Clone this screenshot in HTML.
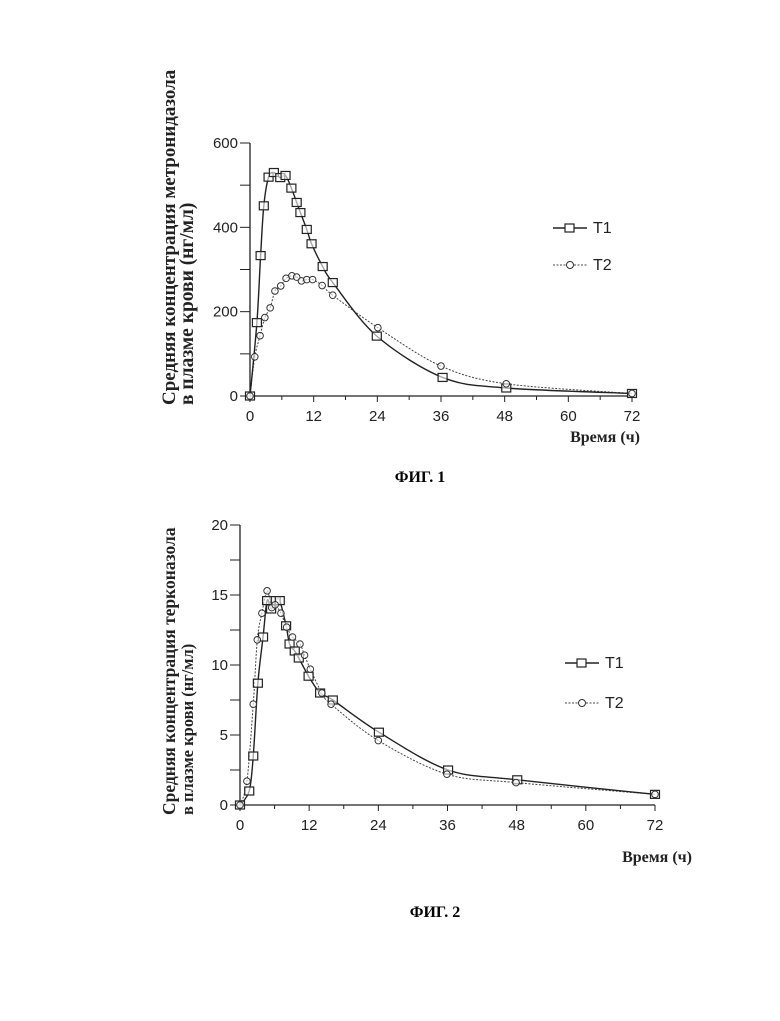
<!DOCTYPE html>
<html><head><meta charset="utf-8"><style>
html,body{margin:0;padding:0;background:#fff;overflow:hidden;}
svg{display:block;}
text{font-family:"Liberation Sans",sans-serif;}
.serif{font-family:"Liberation Serif",serif;font-weight:bold;}
</style></head><body>
<svg id="root" width="780" height="1021" viewBox="0 0 780 1021">
<g id="c1"></g>
<g id="c2"></g>
<text class="serif" x="420" y="482" font-size="16" text-anchor="middle">ФИГ. 1</text>
<text class="serif" x="435" y="917" font-size="16" text-anchor="middle">ФИГ. 2</text>
</svg>
<script>
// Fig 1 data
const f1T1x=[0,1.3,2,2.6,3.5,4.5,5.7,6.7,7.8,8.8,9.5,10.7,11.6,13.7,15.6,23.9,36.3,48.3,72];
const f1T1y=[0,174,333,451,519,530,518,523,493,459,435,395,361,307,269,142,44,19,6];
const f1T2x=[0,0.9,1.9,2.8,3.8,4.7,5.8,6.8,7.9,8.8,9.7,10.7,11.8,13.6,15.6,24.1,36,48.3,72];
const f1T2y=[0,93,143,186,209,249,261,279,285,282,273,276,276,262,239,162,71,29,6];
const f1YTicks=[0,200,400,600];
const f1XTicks=[0,12,24,36,48,60,72];
// Fig 2 data
const f2T1x=[0,1.6,2.3,3.1,4.0,4.7,5.4,6.2,6.9,8.0,8.6,9.5,10.2,11.9,13.9,16.1,24.1,36.1,48.1,72];
const f2T1y=[0,1.0,3.5,8.7,12.0,14.6,14.0,14.6,14.6,12.8,11.5,11.0,10.5,9.2,8.0,7.5,5.2,2.5,1.8,0.76];
const f2T2x=[0,1.2,2.3,3.0,3.8,4.7,5.5,6.1,7.1,8.1,9.1,10.4,11.2,12.2,14.2,15.8,24.0,35.9,47.9,72];
const f2T2y=[0,1.7,7.2,11.8,13.7,15.3,14.1,14.3,13.7,12.7,12.0,11.5,10.7,9.7,8.0,7.2,4.6,2.2,1.6,0.76];
const f2YTicks=[0,5,10,15,20];
const f2XTicks=[0,12,24,36,48,60,72];

const NS="http://www.w3.org/2000/svg";
function mk(p,tag,attrs){const e=document.createElementNS(NS,tag);for(const k in attrs)e.setAttribute(k,attrs[k]);p.appendChild(e);return e;}
function smooth(pts){let d=`M${pts[0][0]},${pts[0][1]}`;for(let i=0;i<pts.length-1;i++){const p0=pts[Math.max(0,i-1)],p1=pts[i],p2=pts[i+1],p3=pts[Math.min(pts.length-1,i+2)];const t=0.16;d+=` C${p1[0]+(p2[0]-p0[0])*t},${p1[1]+(p2[1]-p0[1])*t} ${p2[0]-(p3[0]-p1[0])*t},${p2[1]-(p3[1]-p1[1])*t} ${p2[0]},${p2[1]}`;}return d;}

function chart(g,o){
  const sx=v=>o.x0+(v/72)*(o.x1-o.x0);
  const sy=v=>o.y0-(v/o.ymax)*(o.y0-o.y1);
  let e;
  e=mk(g,'line',{x1:o.x0,y1:o.y0,x2:o.x1,y2:o.y0,stroke:'#222','stroke-width':1.3});
  
  
  e=mk(g,'line',{x1:o.x0,y1:o.y0,x2:o.x0,y2:o.y1,stroke:'#222','stroke-width':1.3});
  
  
  for(let h=0;h<=72;h+=6){e=mk(g,'line',{x1:sx(h),y1:o.y0,x2:sx(h),y2:o.y0+(h%12==0?6:4),stroke:'#222','stroke-width':1});
    
    }
  o.xt.forEach(v=>{e=mk(g,'text',{x:sx(v),y:o.y0+25,'font-size':15,'text-anchor':'middle',fill:'#222'});e.textContent=v;
    
    });
  const step=o.ymin;
  for(let v=0;v<=o.ymax+1e-9;v+=step){e=mk(g,'line',{x1:o.x0-10,y1:sy(v),x2:o.x0,y2:sy(v),stroke:'#222','stroke-width':1});
    
    }
  o.yt.forEach(v=>{e=mk(g,'text',{x:o.x0-12,y:sy(v)+5,'font-size':15,'text-anchor':'end',fill:'#222'});e.textContent=v;
    
    });
  const p1=o.t1x.map((x,i)=>[sx(x),sy(o.t1y[i])]);
  const p2=o.t2x.map((x,i)=>[sx(x),sy(o.t2y[i])]);
  e=mk(g,'path',{d:smooth(p2),fill:'none',stroke:'#444','stroke-width':1,'stroke-dasharray':'2,1.5'});
  
  
  e=mk(g,'path',{d:smooth(p1),fill:'none',stroke:'#222','stroke-width':1.4});
  
  
  p1.forEach(p=>{e=mk(g,'rect',{x:p[0]-4.5,y:p[1]-4,width:9,height:8,fill:'#fff','fill-opacity':0.6,stroke:'#222','stroke-width':1.2});
    
    });
  p2.forEach(p=>{e=mk(g,'circle',{cx:p[0],cy:p[1],r:3.3,fill:'#fff','fill-opacity':0.6,stroke:'#333','stroke-width':1});
    
    });
  const L=o.leg;
  e=mk(g,'line',{x1:L.x,y1:L.y1,x2:L.x+34,y2:L.y1,stroke:'#222','stroke-width':1.4});
  
  
  e=mk(g,'rect',{x:L.x+12,y:L.y1-4,width:9,height:8,fill:'#fff',stroke:'#222','stroke-width':1.2});
  
  
  e=mk(g,'text',{x:L.x+40,y:L.y1+5,'font-size':16,fill:'#222'});e.textContent='T1';
  
  
  e=mk(g,'line',{x1:L.x,y1:L.y2,x2:L.x+34,y2:L.y2,stroke:'#444','stroke-width':1,'stroke-dasharray':'2,1.5'});
  
  
  e=mk(g,'circle',{cx:L.x+17,cy:L.y2,r:3.5,fill:'#fff',stroke:'#333','stroke-width':1});
  
  
  e=mk(g,'text',{x:L.x+40,y:L.y2+5,'font-size':16,fill:'#222'});e.textContent='T2';
  
  
  e=mk(g,'text',{class:'serif',x:o.xtx,y:o.xty,'font-size':16,'text-anchor':'end',fill:'#222'});e.textContent='Время (ч)';
  
  
  e=mk(g,'text',{class:'serif','font-size':o.fs1,fill:'#222','text-anchor':'start',transform:`translate(175,${o.ytBottom}) rotate(-90)`});e.textContent=o.title1;
  
  
  e=mk(g,'text',{class:'serif','font-size':o.fs2,fill:'#222','text-anchor':'start',transform:`translate(193,${o.ytBottom}) rotate(-90)`});e.textContent='в плазме крови (нг/мл)';
  
  
}
chart(document.getElementById('c1'),{x0:250,x1:632,y0:396,y1:143,ymax:600,ymin:100,xt:f1XTicks,yt:f1YTicks,
  t1x:f1T1x,t1y:f1T1y,t2x:f1T2x,t2y:f1T2y,leg:{x:553,y1:228,y2:265},xtx:640,xty:442,ytBottom:405,fs1:19,fs2:19.5,
  title1:'Средняя концентрация метронидазола'});
chart(document.getElementById('c2'),{x0:240,x1:655,y0:805,y1:525,ymax:20,ymin:2.5,xt:f2XTicks,yt:f2YTicks,
  t1x:f2T1x,t1y:f2T1y,t2x:f2T2x,t2y:f2T2y,leg:{x:565,y1:663,y2:703},xtx:692,xty:862,ytBottom:815,fs1:17.5,fs2:16.5,
  title1:'Средняя концентрация терконазола'});
</script>
</body></html>
